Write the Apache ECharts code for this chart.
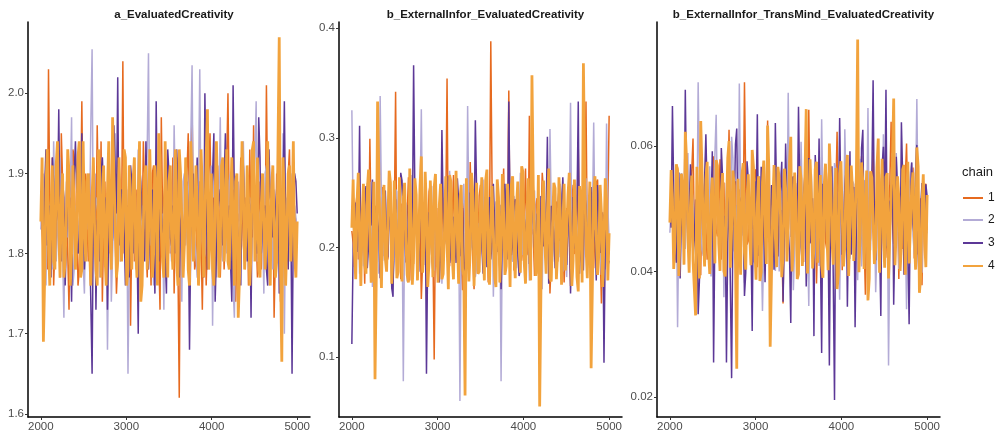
<!DOCTYPE html>
<html>
<head>
<meta charset="utf-8">
<script src="https://cdn.jsdelivr.net/npm/echarts@6/dist/echarts.min.js"></script>
<style>
  html, body { margin: 0; padding: 0; background: #fff; }
  #main { width: 1004px; height: 437px; }
</style>
</head>
<body>
<div id="main"></div>
<script>
/* 数据：每条链抽样，偶数组在 2000+30i，奇数组在 2015+30i */
const iterStart = 2000;
const iterStep = 30;
const chainNames = ['1', '2', '3', '4'];
const chainColors = ['#E66A1F', '#B3ABD6', '#5C3897', '#F2A33D'];
const panelTitles = ['a_EvaluatedCreativity', 'b_ExternalInfor_EvaluatedCreativity', 'b_ExternalInfor_TransMind_EvaluatedCreativity'];
const xTicks = [2000, 3000, 4000, 5000];
const yTicks1 = [1.6, 1.7, 1.8, 1.9, 2.0];
const yTicks2 = [0.1, 0.2, 0.3, 0.4];
const yTicks3 = [0.02, 0.04, 0.06];

// a_EvaluatedCreativity
const a_chain1 = [1.85, 1.79, 1.91, 2.03, 1.82, 1.76, 1.88, 1.84, 1.95, 1.80,
  1.87, 1.73, 1.83, 1.92, 1.86, 1.78, 1.99, 1.81, 1.85, 1.90,
  1.77, 1.84, 1.96, 1.82, 1.74, 1.89, 1.86, 1.80, 1.93, 1.83,
  1.79, 1.88, 2.04, 1.81, 1.85, 1.71, 1.90, 1.84, 1.78, 1.87,
  1.94, 1.82, 1.86, 1.76, 1.91, 1.83, 1.80, 1.97, 1.85, 1.79,
  1.88, 1.84, 1.75, 1.92, 1.62, 1.86, 1.81, 1.90, 1.83, 1.98,
  1.78, 1.85, 1.89, 1.73, 1.87, 1.82, 1.95, 1.80, 1.84, 1.91,
  1.77, 1.86, 1.83, 2.00, 1.79, 1.88, 1.74, 1.85, 1.92, 1.81,
  1.87, 1.76, 1.84, 1.96, 1.82, 1.89, 1.78, 1.85, 2.01, 1.80,
  1.86, 1.72, 1.90, 1.83, 1.88, 1.77, 1.84, 1.93, 1.79, 1.85,
  1.82];
const a_chain1b = [1.83, 1.88, 1.78, 1.86, 1.92, 1.81, 1.85, 1.77, 1.89, 1.84,
  1.80, 1.87, 1.93, 1.82, 1.76, 1.86, 1.84, 1.90, 1.79, 1.85,
  1.88, 1.81, 1.86, 1.94, 1.83, 1.78, 1.87, 1.82, 1.85, 1.75,
  1.89, 1.84, 1.80, 1.86, 1.91, 1.83, 1.79, 1.88, 1.85, 1.81,
  1.87, 1.77, 1.84, 1.90, 1.82, 1.86, 1.73, 1.85, 1.89, 1.83,
  1.80, 1.92, 1.85, 1.78, 1.87, 1.84, 1.81, 1.95, 1.83, 1.86,
  1.79, 1.88, 1.82, 1.85, 1.76, 1.90, 1.84, 1.87, 1.81, 1.86,
  1.83, 1.78, 1.91, 1.85, 1.82, 1.88, 1.80, 1.84, 1.87, 1.79,
  1.86, 1.93, 1.82, 1.85, 1.77, 1.89, 1.84, 1.81, 1.86, 1.83,
  1.88, 1.80, 1.85, 1.74, 1.87, 1.83, 1.90, 1.82, 1.86, 1.84];
const a_chain2 = [1.83, 1.90, 1.76, 1.86, 1.81, 1.94, 1.79, 1.88, 1.84, 1.72,
  1.89, 1.82, 1.97, 1.78, 1.85, 1.80, 1.91, 1.75, 1.87, 1.84,
  2.055, 1.81, 1.86, 1.77, 1.92, 1.83, 1.68, 1.88, 1.80, 1.95,
  1.84, 1.79, 1.87, 1.82, 1.65, 1.90, 1.85, 1.78, 1.93, 1.83,
  1.80, 1.88, 2.05, 1.84, 1.76, 1.89, 1.82, 1.86, 1.73, 1.91,
  1.85, 1.79, 1.96, 1.83, 1.87, 1.74, 1.90, 1.81, 1.86, 2.035,
  1.82, 1.77, 2.03, 1.85, 1.80, 1.92, 1.84, 1.71, 1.88, 1.83,
  1.97, 1.79, 1.86, 1.82, 1.90, 1.76, 1.85, 1.89, 1.81, 1.94,
  1.84, 1.78, 1.87, 1.83, 1.99, 1.80, 1.86, 1.75, 1.91, 1.85,
  1.82, 1.88, 1.79, 2.02, 1.84, 1.70, 1.87, 1.81, 1.90, 1.86,
  1.83];
const a_chain2b = [1.86, 1.81, 1.89, 1.84, 1.78, 1.87, 1.83, 1.92, 1.80, 1.85,
  1.82, 1.88, 1.76, 1.86, 1.84, 1.90, 1.79, 1.85, 1.83, 1.96,
  1.81, 1.87, 1.84, 1.78, 1.89, 1.85, 1.82, 1.74, 1.86, 1.83,
  1.91, 1.80, 1.85, 1.88, 1.79, 1.84, 1.87, 1.82, 1.77, 1.86,
  1.84, 1.93, 1.81, 1.85, 1.88, 1.80, 1.86, 1.83, 1.90, 1.78,
  1.85, 1.82, 1.87, 1.76, 1.84, 1.89, 1.81, 1.86, 1.94, 1.83,
  1.80, 1.88, 1.85, 1.79, 1.86, 1.82, 1.91, 1.84, 1.77, 1.87,
  1.83, 1.85, 1.80, 1.89, 1.84, 1.72, 1.86, 1.82, 1.88, 1.85,
  1.81, 1.87, 1.83, 1.92, 1.79, 1.85, 1.84, 1.90, 1.82, 1.86,
  1.78, 1.84, 1.87, 1.81, 1.95, 1.85, 1.83, 1.88, 1.80, 1.86];
const a_chain3 = [1.86, 1.80, 1.93, 1.83, 1.77, 1.89, 1.84, 1.98, 1.79, 1.87,
  1.82, 1.91, 1.74, 1.85, 1.88, 1.81, 1.95, 1.78, 1.86, 1.83,
  1.65, 1.90, 1.84, 1.79, 1.92, 1.86, 1.73, 1.88, 1.82, 1.96,
  2.02, 1.81, 1.87, 1.76, 1.85, 1.91, 1.80, 1.84, 1.70, 1.89,
  1.83, 1.94, 1.78, 1.86, 1.82, 1.99, 1.79, 1.88, 1.84, 1.75,
  1.90, 1.81, 1.86, 1.93, 1.77, 1.85, 1.82, 1.89, 1.68, 1.87,
  1.83, 1.92, 1.80, 1.86, 2.00, 1.78, 1.84, 1.90, 1.74, 1.85,
  1.88, 1.81, 1.95, 1.83, 1.79, 2.01, 1.86, 1.82, 1.76, 1.91,
  1.84, 1.87, 1.72, 1.89, 1.83, 1.97, 1.80, 1.85, 1.78, 1.93,
  1.86, 1.82, 1.88, 1.75, 1.84, 1.99, 1.81, 1.87, 1.65, 1.90,
  1.85];
const a_chain3b = [1.84, 1.88, 1.81, 1.86, 1.92, 1.79, 1.85, 1.83, 1.89, 1.76,
  1.87, 1.82, 1.85, 1.94, 1.80, 1.86, 1.84, 1.78, 1.88, 1.83,
  1.86, 1.73, 1.85, 1.90, 1.82, 1.87, 1.84, 1.80, 1.96, 1.85,
  1.81, 1.88, 1.83, 1.86, 1.77, 1.89, 1.84, 1.82, 1.91, 1.85,
  1.79, 1.86, 1.83, 1.88, 1.75, 1.85, 1.87, 1.81, 1.84, 1.93,
  1.82, 1.86, 1.80, 1.89, 1.84, 1.78, 1.87, 1.85, 1.82, 1.90,
  1.86, 1.81, 1.84, 1.77, 1.88, 1.83, 1.86, 1.95, 1.80, 1.85,
  1.83, 1.89, 1.82, 1.86, 1.74, 1.87, 1.84, 1.81, 1.90, 1.85,
  1.79, 1.86, 1.88, 1.83, 1.80, 1.92, 1.84, 1.86, 1.76, 1.87,
  1.82, 1.85, 1.91, 1.80, 1.87, 1.83, 1.78, 1.86, 1.84, 1.89];
const a_chain4 = [1.84, 1.69, 1.88, 1.81, 1.86, 1.79, 1.91, 1.83, 1.87, 1.77,
  1.85, 1.90, 1.80, 1.86, 1.82, 1.94, 1.78, 1.84, 1.89, 1.81,
  1.87, 1.83, 1.76, 1.90, 1.85, 1.80, 1.88, 1.82, 1.97, 1.84,
  1.79, 1.86, 1.83, 1.92, 1.78, 1.85, 1.89, 1.81, 1.87, 1.74,
  1.84, 1.91, 1.82, 1.86, 1.80, 1.88, 1.95, 1.83, 1.77, 1.85,
  1.89, 1.82, 1.86, 1.79, 1.93, 1.84, 1.81, 1.87, 1.76, 1.90,
  1.83, 1.86, 1.80, 1.88, 1.84, 1.98, 1.82, 1.78, 1.87, 1.85,
  1.81, 1.92, 1.84, 1.79, 1.86, 1.83, 1.89, 1.72, 1.85, 1.88,
  1.82, 1.87, 1.80, 1.94, 1.84, 1.78, 1.86, 1.90, 1.83, 1.81,
  1.88, 1.84, 1.79, 2.07, 1.665, 1.86, 1.82, 1.91, 1.85, 1.80,
  1.84];
const a_chain4b = [1.92, 1.77, 1.93, 1.76, 1.91, 1.78, 1.94, 1.77, 1.90, 1.79,
  1.93, 1.76, 1.91, 1.78, 1.92, 1.77, 1.94, 1.79, 1.90, 1.76,
  1.92, 1.78, 1.93, 1.77, 1.91, 1.76, 1.94, 1.78, 1.90, 1.77,
  1.92, 1.79, 1.93, 1.76, 1.91, 1.78, 1.92, 1.77, 1.94, 1.76,
  1.90, 1.78, 1.93, 1.77, 1.91, 1.76, 1.92, 1.79, 1.94, 1.77,
  1.91, 1.78, 1.93, 1.76, 1.90, 1.77, 1.92, 1.78, 1.94, 1.79,
  1.91, 1.76, 1.93, 1.77, 1.92, 1.78, 1.90, 1.76, 1.94, 1.77,
  1.91, 1.79, 1.93, 1.78, 1.92, 1.76, 1.90, 1.77, 1.94, 1.78,
  1.91, 1.76, 1.93, 1.79, 1.92, 1.77, 1.90, 1.78, 1.94, 1.76,
  1.91, 1.77, 1.93, 1.78, 1.92, 1.76, 1.90, 1.79, 1.94, 1.77];

// b_ExternalInfor_EvaluatedCreativity
const b_chain1 = [0.215, 0.182, 0.248, 0.203, 0.231, 0.167, 0.226, 0.299, 0.194, 0.238,
  0.209, 0.177, 0.255, 0.221, 0.189, 0.243, 0.201, 0.342, 0.212, 0.171,
  0.232, 0.196, 0.264, 0.218, 0.185, 0.240, 0.207, 0.153, 0.227, 0.199,
  0.251, 0.213, 0.098, 0.236, 0.192, 0.262, 0.205, 0.354, 0.183, 0.224,
  0.197, 0.246, 0.216, 0.161, 0.233, 0.208, 0.278, 0.190, 0.229, 0.202,
  0.257, 0.186, 0.219, 0.168, 0.388, 0.211, 0.241, 0.195, 0.225, 0.272,
  0.204, 0.343, 0.234, 0.179, 0.214, 0.249, 0.188, 0.230, 0.200, 0.320,
  0.217, 0.174, 0.245, 0.206, 0.268, 0.193, 0.228, 0.158, 0.239, 0.210,
  0.187, 0.253, 0.220, 0.198, 0.235, 0.165, 0.244, 0.207, 0.291, 0.191,
  0.226, 0.333, 0.202, 0.237, 0.181, 0.259, 0.212, 0.149, 0.230, 0.204,
  0.320];
const b_chain1b = [0.204, 0.237, 0.189, 0.226, 0.211, 0.252, 0.196, 0.219, 0.174, 0.233,
  0.208, 0.245, 0.192, 0.221, 0.263, 0.201, 0.228, 0.183, 0.214, 0.240,
  0.197, 0.230, 0.170, 0.218, 0.249, 0.206, 0.224, 0.187, 0.236, 0.212,
  0.258, 0.199, 0.222, 0.178, 0.241, 0.209, 0.231, 0.194, 0.217, 0.266,
  0.203, 0.227, 0.185, 0.243, 0.213, 0.198, 0.235, 0.162, 0.220, 0.247,
  0.207, 0.190, 0.232, 0.216, 0.255, 0.195, 0.223, 0.180, 0.238, 0.210,
  0.229, 0.200, 0.246, 0.186, 0.219, 0.234, 0.205, 0.272, 0.193, 0.225,
  0.211, 0.239, 0.176, 0.221, 0.250, 0.202, 0.230, 0.189, 0.215, 0.242,
  0.198, 0.226, 0.168, 0.236, 0.208, 0.257, 0.194, 0.222, 0.213, 0.184,
  0.244, 0.206, 0.231, 0.191, 0.218, 0.262, 0.200, 0.228, 0.181, 0.235];
const b_chain2 = [0.325, 0.201, 0.238, 0.176, 0.222, 0.193, 0.259, 0.209, 0.164, 0.234,
  0.215, 0.338, 0.188, 0.247, 0.203, 0.227, 0.172, 0.253, 0.198, 0.219,
  0.078, 0.241, 0.211, 0.266, 0.190, 0.230, 0.205, 0.326, 0.184, 0.224,
  0.200, 0.256, 0.179, 0.232, 0.213, 0.167, 0.245, 0.194, 0.270, 0.208,
  0.228, 0.186, 0.060, 0.237, 0.211, 0.329, 0.196, 0.250, 0.173, 0.222,
  0.204, 0.262, 0.189, 0.233, 0.216, 0.155, 0.242, 0.199, 0.078, 0.226,
  0.210, 0.317, 0.192, 0.247, 0.181, 0.225, 0.269, 0.203, 0.236, 0.170,
  0.218, 0.252, 0.195, 0.229, 0.162, 0.240, 0.207, 0.308, 0.187, 0.223,
  0.201, 0.258, 0.178, 0.234, 0.214, 0.332, 0.196, 0.244, 0.169, 0.227,
  0.209, 0.263, 0.185, 0.231, 0.314, 0.198, 0.246, 0.175, 0.221, 0.313,
  0.206];
const b_chain2b = [0.226, 0.195, 0.247, 0.210, 0.183, 0.233, 0.219, 0.260, 0.201, 0.228,
  0.176, 0.241, 0.213, 0.197, 0.236, 0.222, 0.188, 0.251, 0.207, 0.230,
  0.215, 0.169, 0.244, 0.203, 0.226, 0.192, 0.238, 0.211, 0.264, 0.199,
  0.224, 0.185, 0.232, 0.217, 0.249, 0.204, 0.221, 0.179, 0.240, 0.208,
  0.195, 0.235, 0.214, 0.258, 0.190, 0.227, 0.202, 0.243, 0.182, 0.220,
  0.237, 0.206, 0.229, 0.171, 0.245, 0.212, 0.196, 0.233, 0.218, 0.254,
  0.200, 0.225, 0.187, 0.239, 0.209, 0.268, 0.193, 0.223, 0.214, 0.178,
  0.242, 0.205, 0.230, 0.198, 0.250, 0.216, 0.184, 0.236, 0.207, 0.227,
  0.191, 0.246, 0.211, 0.173, 0.234, 0.203, 0.259, 0.219, 0.195, 0.231,
  0.208, 0.240, 0.186, 0.225, 0.213, 0.248, 0.199, 0.222, 0.180, 0.237];
const b_chain3 = [0.112, 0.228, 0.196, 0.311, 0.210, 0.243, 0.181, 0.226, 0.262, 0.199,
  0.235, 0.172, 0.217, 0.252, 0.191, 0.229, 0.155, 0.244, 0.205, 0.268,
  0.214, 0.187, 0.239, 0.201, 0.366, 0.223, 0.178, 0.248, 0.208, 0.085,
  0.232, 0.194, 0.257, 0.216, 0.168, 0.307, 0.203, 0.241, 0.186, 0.225,
  0.211, 0.263, 0.192, 0.236, 0.147, 0.219, 0.250, 0.198, 0.316, 0.207,
  0.230, 0.176, 0.245, 0.213, 0.189, 0.258, 0.201, 0.234, 0.162, 0.221,
  0.205, 0.333, 0.193, 0.239, 0.215, 0.174, 0.249, 0.208, 0.227, 0.185,
  0.256, 0.200, 0.231, 0.166, 0.242, 0.212, 0.301, 0.195, 0.224, 0.181,
  0.237, 0.206, 0.264, 0.190, 0.218, 0.158, 0.246, 0.203, 0.333, 0.214,
  0.179, 0.238, 0.197, 0.255, 0.209, 0.170, 0.232, 0.201, 0.095, 0.243,
  0.188];
const b_chain3b = [0.198, 0.241, 0.210, 0.183, 0.229, 0.256, 0.202, 0.220, 0.175, 0.236,
  0.214, 0.192, 0.248, 0.207, 0.226, 0.163, 0.238, 0.211, 0.197, 0.261,
  0.219, 0.185, 0.233, 0.204, 0.245, 0.190, 0.227, 0.212, 0.252, 0.199,
  0.223, 0.178, 0.240, 0.208, 0.194, 0.234, 0.216, 0.265, 0.201, 0.228,
  0.186, 0.243, 0.213, 0.200, 0.237, 0.171, 0.225, 0.209, 0.250, 0.193,
  0.231, 0.217, 0.182, 0.246, 0.205, 0.222, 0.196, 0.239, 0.211, 0.258,
  0.189, 0.228, 0.203, 0.244, 0.215, 0.180, 0.234, 0.207, 0.262, 0.197,
  0.224, 0.212, 0.187, 0.247, 0.201, 0.230, 0.167, 0.238, 0.214, 0.193,
  0.253, 0.206, 0.226, 0.184, 0.241, 0.210, 0.199, 0.235, 0.176, 0.221,
  0.248, 0.202, 0.229, 0.190, 0.216, 0.257, 0.195, 0.232, 0.208, 0.183];
const b_chain4 = [0.218, 0.196, 0.241, 0.207, 0.229, 0.185, 0.252, 0.212, 0.174, 0.080,
  0.333, 0.203, 0.236, 0.190, 0.224, 0.259, 0.199, 0.231, 0.178, 0.214,
  0.245, 0.206, 0.168, 0.227, 0.193, 0.248, 0.210, 0.283, 0.201, 0.234,
  0.187, 0.222, 0.255, 0.198, 0.239, 0.171, 0.216, 0.204, 0.266, 0.192,
  0.228, 0.209, 0.243, 0.181, 0.065, 0.220, 0.197, 0.250, 0.213, 0.176,
  0.235, 0.202, 0.261, 0.189, 0.225, 0.211, 0.164, 0.246, 0.200, 0.230,
  0.183, 0.219, 0.257, 0.195, 0.238, 0.207, 0.274, 0.186, 0.223, 0.201,
  0.357, 0.214, 0.191, 0.055, 0.242, 0.205, 0.231, 0.172, 0.218, 0.254,
  0.196, 0.233, 0.209, 0.179, 0.247, 0.215, 0.188, 0.226, 0.160, 0.239,
  0.368, 0.202, 0.221, 0.090, 0.249, 0.211, 0.195, 0.232, 0.206, 0.244,
  0.213];
const b_chain4b = [0.262, 0.171, 0.268, 0.165, 0.258, 0.176, 0.271, 0.168, 0.260, 0.174,
  0.266, 0.163, 0.257, 0.178, 0.270, 0.167, 0.261, 0.172, 0.264, 0.169,
  0.259, 0.175, 0.272, 0.166, 0.263, 0.170, 0.256, 0.177, 0.269, 0.164,
  0.261, 0.173, 0.267, 0.168, 0.258, 0.176, 0.265, 0.162, 0.260, 0.171,
  0.270, 0.167, 0.257, 0.174, 0.263, 0.169, 0.268, 0.165, 0.259, 0.178,
  0.264, 0.170, 0.271, 0.166, 0.256, 0.173, 0.262, 0.168, 0.267, 0.175,
  0.258, 0.164, 0.265, 0.172, 0.260, 0.177, 0.269, 0.167, 0.263, 0.170,
  0.257, 0.174, 0.266, 0.163, 0.261, 0.176, 0.272, 0.169, 0.259, 0.171,
  0.264, 0.166, 0.258, 0.178, 0.268, 0.165, 0.262, 0.173, 0.256, 0.168,
  0.270, 0.172, 0.260, 0.167, 0.265, 0.175, 0.257, 0.164, 0.263, 0.170];

// b_ExternalInfor_TransMind_EvaluatedCreativity
const c_chain1 = [0.0483, 0.0521, 0.0447, 0.0566, 0.0462, 0.0505, 0.0431, 0.0538, 0.0476, 0.0612,
  0.0455, 0.0497, 0.0394, 0.0549, 0.0470, 0.0512, 0.0438, 0.0584, 0.0466, 0.0503,
  0.0419, 0.0542, 0.0479, 0.0626, 0.0451, 0.0494, 0.0372, 0.0531, 0.0487, 0.0702,
  0.0443, 0.0515, 0.0468, 0.0557, 0.0407, 0.0490, 0.0533, 0.0459, 0.0641, 0.0474,
  0.0508, 0.0426, 0.0553, 0.0481, 0.0349, 0.0527, 0.0464, 0.0596, 0.0442, 0.0500,
  0.0473, 0.0545, 0.0415, 0.0519, 0.0658, 0.0457, 0.0492, 0.0381, 0.0536, 0.0469,
  0.0511, 0.0435, 0.0574, 0.0485, 0.0449, 0.0623, 0.0478, 0.0402, 0.0529, 0.0460,
  0.0546, 0.0488, 0.0425, 0.0667, 0.0471, 0.0509, 0.0363, 0.0540, 0.0453, 0.0591,
  0.0477, 0.0518, 0.0410, 0.0561, 0.0465, 0.0497, 0.0639, 0.0444, 0.0525, 0.0388,
  0.0535, 0.0472, 0.0604, 0.0458, 0.0514, 0.0421, 0.0548, 0.0482, 0.0378, 0.0531,
  0.0466];
const c_chain1b = [0.0495, 0.0452, 0.0538, 0.0470, 0.0514, 0.0433, 0.0526, 0.0481, 0.0559, 0.0462,
  0.0503, 0.0441, 0.0547, 0.0488, 0.0419, 0.0531, 0.0475, 0.0512, 0.0456, 0.0579,
  0.0484, 0.0437, 0.0522, 0.0499, 0.0466, 0.0544, 0.0410, 0.0507, 0.0473, 0.0535,
  0.0449, 0.0518, 0.0491, 0.0563, 0.0458, 0.0500, 0.0428, 0.0541, 0.0479, 0.0516,
  0.0464, 0.0552, 0.0487, 0.0445, 0.0524, 0.0471, 0.0508, 0.0403, 0.0537, 0.0482,
  0.0519, 0.0454, 0.0571, 0.0476, 0.0498, 0.0439, 0.0529, 0.0467, 0.0510, 0.0492,
  0.0448, 0.0543, 0.0480, 0.0415, 0.0525, 0.0469, 0.0553, 0.0486, 0.0443, 0.0515,
  0.0496, 0.0460, 0.0533, 0.0477, 0.0584, 0.0451, 0.0506, 0.0430, 0.0528, 0.0489,
  0.0465, 0.0549, 0.0474, 0.0511, 0.0422, 0.0539, 0.0483, 0.0458, 0.0520, 0.0501,
  0.0436, 0.0545, 0.0490, 0.0468, 0.0566, 0.0479, 0.0427, 0.0517, 0.0485, 0.0540];
const c_chain2 = [0.0462, 0.0534, 0.0418, 0.0311, 0.0547, 0.0480, 0.0436, 0.0589, 0.0471, 0.0509,
  0.0440, 0.0702, 0.0486, 0.0425, 0.0558, 0.0463, 0.0392, 0.0523, 0.0650, 0.0451,
  0.0497, 0.0359, 0.0541, 0.0474, 0.0615, 0.0432, 0.0506, 0.0700, 0.0457, 0.0382,
  0.0528, 0.0468, 0.0594, 0.0413, 0.0491, 0.0552, 0.0337, 0.0479, 0.0633, 0.0446,
  0.0512, 0.0401, 0.0565, 0.0470, 0.0428, 0.0539, 0.0685, 0.0455, 0.0370, 0.0520,
  0.0484, 0.0607, 0.0437, 0.0499, 0.0345, 0.0556, 0.0463, 0.0517, 0.0409, 0.0643,
  0.0475, 0.0530, 0.0392, 0.0488, 0.0573, 0.0448, 0.0355, 0.0511, 0.0627, 0.0466,
  0.0420, 0.0544, 0.0493, 0.0386, 0.0580, 0.0459, 0.0524, 0.0661, 0.0434, 0.0501,
  0.0367, 0.0550, 0.0478, 0.0619, 0.0441, 0.0250, 0.0515, 0.0467, 0.0589, 0.0404,
  0.0536, 0.0452, 0.0340, 0.0507, 0.0574, 0.0429, 0.0675, 0.0487, 0.0398, 0.0545,
  0.0461];
const c_chain2b = [0.0501, 0.0444, 0.0529, 0.0476, 0.0557, 0.0460, 0.0515, 0.0425, 0.0538, 0.0487,
  0.0468, 0.0549, 0.0435, 0.0506, 0.0481, 0.0568, 0.0453, 0.0520, 0.0493, 0.0412,
  0.0534, 0.0470, 0.0511, 0.0447, 0.0581, 0.0485, 0.0429, 0.0524, 0.0496, 0.0459,
  0.0545, 0.0473, 0.0417, 0.0513, 0.0488, 0.0552, 0.0442, 0.0507, 0.0478, 0.0536,
  0.0465, 0.0521, 0.0400, 0.0498, 0.0560, 0.0456, 0.0518, 0.0483, 0.0439, 0.0541,
  0.0472, 0.0509, 0.0577, 0.0450, 0.0526, 0.0490, 0.0421, 0.0532, 0.0467, 0.0503,
  0.0548, 0.0445, 0.0514, 0.0479, 0.0565, 0.0462, 0.0508, 0.0433, 0.0527, 0.0494,
  0.0455, 0.0539, 0.0471, 0.0519, 0.0408, 0.0546, 0.0484, 0.0461, 0.0530, 0.0497,
  0.0440, 0.0555, 0.0474, 0.0502, 0.0526, 0.0448, 0.0589, 0.0480, 0.0516, 0.0431,
  0.0535, 0.0469, 0.0504, 0.0558, 0.0457, 0.0522, 0.0489, 0.0418, 0.0543, 0.0476];
const c_chain3 = [0.0508, 0.0664, 0.0441, 0.0527, 0.0389, 0.0496, 0.0690, 0.0453, 0.0571, 0.0420,
  0.0515, 0.0332, 0.0563, 0.0478, 0.0619, 0.0437, 0.0502, 0.0255, 0.0548, 0.0466,
  0.0597, 0.0412, 0.0255, 0.0533, 0.0230, 0.0489, 0.0628, 0.0448, 0.0520, 0.0361,
  0.0576, 0.0472, 0.0305, 0.0544, 0.0651, 0.0431, 0.0510, 0.0383, 0.0587, 0.0459,
  0.0498, 0.0637, 0.0424, 0.0535, 0.0352, 0.0604, 0.0467, 0.0318, 0.0552, 0.0486,
  0.0663, 0.0439, 0.0525, 0.0376, 0.0581, 0.0462, 0.0297, 0.0540, 0.0612, 0.0270,
  0.0513, 0.0449, 0.0250, 0.0568, 0.0195, 0.0500, 0.0645, 0.0427, 0.0536, 0.0344,
  0.0592, 0.0470, 0.0311, 0.0557, 0.0432, 0.0626, 0.0481, 0.0364, 0.0549, 0.0705,
  0.0418, 0.0531, 0.0329, 0.0599, 0.0690, 0.0444, 0.0516, 0.0347, 0.0583, 0.0465,
  0.0638, 0.0395, 0.0529, 0.0316, 0.0574, 0.0455, 0.0602, 0.0371, 0.0541, 0.0490,
  0.0520];
const c_chain3b = [0.0470, 0.0531, 0.0414, 0.0558, 0.0485, 0.0443, 0.0520, 0.0496, 0.0571, 0.0451,
  0.0509, 0.0387, 0.0542, 0.0478, 0.0524, 0.0436, 0.0592, 0.0465, 0.0505, 0.0421,
  0.0550, 0.0489, 0.0446, 0.0533, 0.0472, 0.0603, 0.0438, 0.0513, 0.0493, 0.0398,
  0.0546, 0.0461, 0.0527, 0.0484, 0.0425, 0.0567, 0.0476, 0.0511, 0.0449, 0.0538,
  0.0403, 0.0521, 0.0494, 0.0575, 0.0457, 0.0506, 0.0430, 0.0548, 0.0482, 0.0467,
  0.0529, 0.0412, 0.0555, 0.0490, 0.0445, 0.0517, 0.0586, 0.0473, 0.0434, 0.0540,
  0.0499, 0.0461, 0.0519, 0.0393, 0.0553, 0.0480, 0.0508, 0.0441, 0.0562, 0.0487,
  0.0427, 0.0535, 0.0471, 0.0514, 0.0596, 0.0455, 0.0502, 0.0418, 0.0544, 0.0479,
  0.0523, 0.0448, 0.0569, 0.0492, 0.0437, 0.0511, 0.0583, 0.0463, 0.0527, 0.0406,
  0.0549, 0.0483, 0.0440, 0.0518, 0.0475, 0.0561, 0.0428, 0.0503, 0.0486, 0.0539];
const c_chain4 = [0.0478, 0.0516, 0.0449, 0.0562, 0.0470, 0.0531, 0.0623, 0.0457, 0.0505, 0.0418,
  0.0330, 0.0492, 0.0640, 0.0463, 0.0545, 0.0436, 0.0511, 0.0484, 0.0578, 0.0445,
  0.0526, 0.0401, 0.0499, 0.0608, 0.0468, 0.0537, 0.0245, 0.0481, 0.0553, 0.0430,
  0.0519, 0.0461, 0.0594, 0.0443, 0.0508, 0.0385, 0.0542, 0.0474, 0.0633, 0.0280,
  0.0501, 0.0455, 0.0567, 0.0489, 0.0426, 0.0532, 0.0470, 0.0615, 0.0447, 0.0513,
  0.0396, 0.0548, 0.0482, 0.0659, 0.0459, 0.0521, 0.0437, 0.0575, 0.0494, 0.0410,
  0.0538, 0.0466, 0.0604, 0.0452, 0.0509, 0.0372, 0.0556, 0.0487, 0.0441, 0.0586,
  0.0473, 0.0529, 0.0420, 0.0770, 0.0462, 0.0544, 0.0497, 0.0354, 0.0560, 0.0480,
  0.0436, 0.0612, 0.0503, 0.0458, 0.0551, 0.0389, 0.0525, 0.0676, 0.0469, 0.0517,
  0.0442, 0.0570, 0.0486, 0.0413, 0.0535, 0.0463, 0.0598, 0.0366, 0.0507, 0.0454,
  0.0522];
const c_chain4b = [0.0562, 0.0404, 0.0571, 0.0393, 0.0556, 0.0411, 0.0578, 0.0398, 0.0553, 0.0415,
  0.0567, 0.0389, 0.0559, 0.0408, 0.0575, 0.0396, 0.0550, 0.0413, 0.0569, 0.0401,
  0.0557, 0.0392, 0.0581, 0.0406, 0.0561, 0.0418, 0.0548, 0.0395, 0.0573, 0.0403,
  0.0555, 0.0410, 0.0566, 0.0387, 0.0552, 0.0399, 0.0577, 0.0412, 0.0560, 0.0394,
  0.0570, 0.0407, 0.0549, 0.0391, 0.0564, 0.0416, 0.0574, 0.0400, 0.0558, 0.0388,
  0.0568, 0.0409, 0.0551, 0.0397, 0.0579, 0.0405, 0.0563, 0.0414, 0.0554, 0.0390,
  0.0572, 0.0402, 0.0547, 0.0411, 0.0565, 0.0396, 0.0576, 0.0408, 0.0559, 0.0393,
  0.0569, 0.0417, 0.0553, 0.0399, 0.0574, 0.0404, 0.0561, 0.0389, 0.0550, 0.0412,
  0.0566, 0.0398, 0.0580, 0.0406, 0.0557, 0.0392, 0.0571, 0.0410, 0.0552, 0.0401,
  0.0563, 0.0395, 0.0575, 0.0413, 0.0558, 0.0403, 0.0568, 0.0391, 0.0555, 0.0407];

const panelChains = [
  [[a_chain1, a_chain1b], [a_chain2, a_chain2b], [a_chain3, a_chain3b], [a_chain4, a_chain4b]],
  [[b_chain1, b_chain1b], [b_chain2, b_chain2b], [b_chain3, b_chain3b], [b_chain4, b_chain4b]],
  [[c_chain1, c_chain1b], [c_chain2, c_chain2b], [c_chain3, c_chain3b], [c_chain4, c_chain4b]]
];
const panelYTicks = [yTicks1, yTicks2, yTicks3];
const panelYRange = [[1.596, 2.089], [0.0455, 0.4055], [0.0168, 0.0798]];
const panelYDigits = [1, 1, 2];

// 按迭代顺序合并两组抽样
function chainPoints(even, odd) {
  const pts = [];
  even.forEach((v, i) => {
    pts.push([iterStart + i * iterStep, v]);
    if (i < odd.length) pts.push([iterStart + i * iterStep + iterStep / 2, odd[i]]);
  });
  return pts;
}

/* 布局 */
const grids = [
  { left: 28, top: 22, width: 282, height: 395 },
  { left: 339, top: 22, width: 283, height: 395 },
  { left: 657, top: 22, width: 283, height: 395 }
];

const axisLabelStyle = { color: '#4d4d4d', fontSize: 11.5, fontFamily: 'Liberation Sans, Arial, sans-serif' };

const xAxes = grids.map((g, k) => ({
  type: 'value',
  gridIndex: k,
  min: 1850,
  max: 5150,
  splitLine: { show: false },
  axisLine: { onZero: false, lineStyle: { color: '#000', width: 1.5 } },
  axisTick: { length: 3, lineStyle: { color: '#333', width: 1 }, customValues: xTicks },
  axisLabel: Object.assign({ margin: 4, customValues: xTicks, formatter: v => String(v) }, axisLabelStyle)
}));

const yAxes = grids.map((g, k) => ({
  type: 'value',
  gridIndex: k,
  min: panelYRange[k][0],
  max: panelYRange[k][1],
  splitLine: { show: false },
  axisLine: { show: true, onZero: false, lineStyle: { color: '#000', width: 1.5 } },
  axisTick: { show: true, length: 3, lineStyle: { color: '#333', width: 1 }, customValues: panelYTicks[k] },
  axisLabel: Object.assign({
    margin: 4,
    customValues: panelYTicks[k],
    formatter: v => Number(v).toFixed(panelYDigits[k])
  }, axisLabelStyle)
}));

// 第4条链在最上层，加粗让中间成为实心带
const chainWidths = [1.5, 1.5, 1.5, 2.8];

const series = [];
panelChains.forEach((chains, k) => {
  chains.forEach((pair, c) => {
    series.push({
      type: 'line',
      name: chainNames[c],
      xAxisIndex: k,
      yAxisIndex: k,
      data: chainPoints(pair[0], pair[1]),
      showSymbol: false,
      symbol: 'none',
      silent: true,
      lineStyle: { color: chainColors[c], width: chainWidths[c] },
      itemStyle: { color: chainColors[c] },
      z: 2 + c
    });
  });
});

const titles = panelTitles.map((t, k) => ({
  text: t,
  left: grids[k].left + grids[k].width / 2,
  top: 4,
  textAlign: 'center',
  textStyle: { fontSize: 11.5, fontWeight: 'bold', color: '#1a1a1a', fontFamily: 'Liberation Sans, Arial, sans-serif' }
}));
titles.push({
  text: 'chain',
  left: 957,
  top: 161,
  textStyle: { fontSize: 13, fontWeight: 'normal', color: '#1a1a1a', fontFamily: 'Liberation Sans, Arial, sans-serif' }
});

const legendTops = [187, 209, 232, 255];
const legends = chainNames.map((n, c) => ({
  data: [n],
  left: 958,
  top: legendTops[c],
  icon: 'rect',
  itemWidth: 20,
  itemHeight: 2,
  itemGap: 8,
  selectedMode: false,
  textStyle: { fontSize: 12, color: '#1a1a1a', fontFamily: 'Liberation Sans, Arial, sans-serif' }
}));

var myChart = echarts.init(document.getElementById('main'), null, { renderer: 'canvas' });
var option = {
  backgroundColor: '#fff',
  animation: false,
  title: titles,
  legend: legends,
  grid: grids,
  xAxis: xAxes,
  yAxis: yAxes,
  series: series
};
myChart.setOption(option);
</script>
</body>
</html>
